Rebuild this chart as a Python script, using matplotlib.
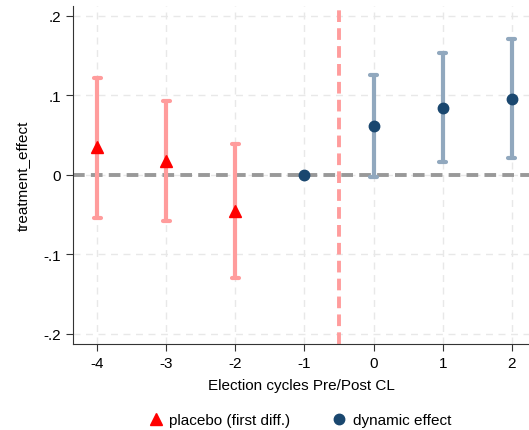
import matplotlib
matplotlib.use("Agg")
import matplotlib.pyplot as plt
from matplotlib.lines import Line2D

plt.rcParams["font.family"] = ["Liberation Sans", "DejaVu Sans"]

# placebo (first differences), pre-period cycles
placebo_x = [-4, -3, -2]
placebo_est = [0.035, 0.018, -0.045]
placebo_lo = [-0.054, -0.058, -0.130]
placebo_hi = [0.122, 0.093, 0.039]

# dynamic effects
dyn_x = [-1, 0, 1, 2]
dyn_est = [0.0, 0.062, 0.084, 0.096]
dyn_lo = [0.0, -0.003, 0.016, 0.021]
dyn_hi = [0.0, 0.126, 0.153, 0.171]

xticks = [-4, -3, -2, -1, 0, 1, 2]
yticks = [-0.2, -0.1, 0.0, 0.1, 0.2]
ytick_labels = ["-.2", "-.1", "0", ".1", ".2"]

RED_CI = "#ff9c9c"
RED = "#ff0000"
BLUE_CI = "#91a8be"
NAVY = "#1a476f"

fig = plt.figure(figsize=(5.29, 4.31), dpi=100)
ax = fig.add_axes([0.138, 0.2, 0.862, 0.784])

ax.grid(True, color="#e8e8e8", ls=(0, (5, 4)), lw=1)
ax.set_axisbelow(True)

ax.axhline(0, color="#999999", ls=(0, (3, 1.6)), lw=2.8, zorder=1)
ax.axvline(-0.5, color=RED_CI, ls=(0, (3, 1.6)), lw=2.8, zorder=1)

# confidence intervals
ax.vlines(placebo_x, placebo_lo, placebo_hi, color=RED_CI, lw=3, zorder=2)
ax.hlines(placebo_lo + placebo_hi, [x - 0.05 for x in placebo_x * 2],
          [x + 0.05 for x in placebo_x * 2], color=RED_CI, lw=3, zorder=2,
          capstyle="round")
ci_x = dyn_x[1:]
ax.vlines(ci_x, dyn_lo[1:], dyn_hi[1:], color=BLUE_CI, lw=3, zorder=2)
ax.hlines(dyn_lo[1:] + dyn_hi[1:], [x - 0.05 for x in ci_x * 2],
          [x + 0.05 for x in ci_x * 2], color=BLUE_CI, lw=3, zorder=2,
          capstyle="round")

ax.plot(placebo_x, placebo_est, ls="none", marker="^", ms=8.5, color=RED, zorder=3)
ax.plot(dyn_x, dyn_est, ls="none", marker="o", ms=7.5, color=NAVY, zorder=3)

ax.set_xlim(-4.35, 2.25)
ax.set_ylim(-0.2125, 0.2125)
ax.set_xticks(xticks)
ax.set_xticklabels([str(x) for x in xticks])
ax.set_yticks(yticks)
ax.set_yticklabels(ytick_labels)
ax.tick_params(labelsize=11, direction="out", length=5, color="#333333")
for s in ["top", "right"]:
    ax.spines[s].set_visible(False)
for s in ["left", "bottom"]:
    ax.spines[s].set_color("#333333")

ax.set_xlabel("Election cycles Pre/Post CL", fontsize=11, labelpad=6)
ax.set_ylabel("treatment_effect", fontsize=11, labelpad=10)

handles = [
    Line2D([], [], ls="none", marker="^", ms=8.5, color=RED, label="placebo (first diff.)"),
    Line2D([], [], ls="none", marker="o", ms=7.5, color=NAVY, label="dynamic effect"),
]
fig.legend(handles=handles, loc="lower center", bbox_to_anchor=(0.565, -0.025), ncol=2,
           frameon=False, fontsize=11, handletextpad=0.3, columnspacing=2.6,
           handlelength=1.2)

fig.savefig("out.png", dpi=100)
